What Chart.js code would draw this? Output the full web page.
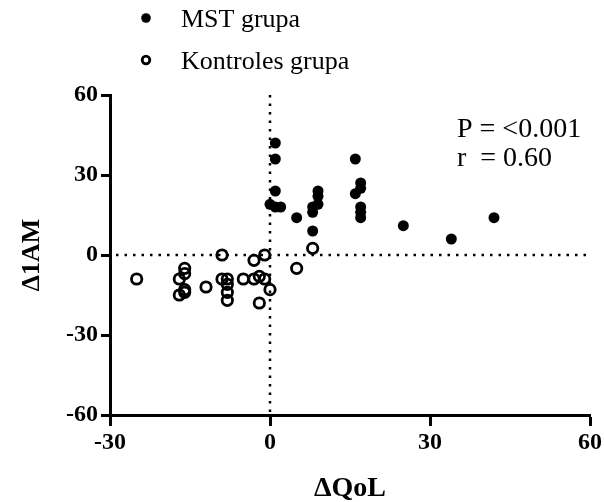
<!DOCTYPE html>
<html>
<head>
<meta charset="utf-8">
<script src="https://cdn.jsdelivr.net/npm/chart.js@4/dist/chart.umd.min.js"></script>
<style>
  html, body { margin: 0; padding: 0; background: #fff; }
  #wrap { width: 604px; height: 502px; position: relative; }
</style>
</head>
<body>
<div id="wrap"><canvas id="scatter"></canvas></div>
<script>
  // --- Data: change in QoL (x) vs change in 1AM (y) ---
  const mstX  = [1, 1, 1, 0, 1, 2, 5, 8, 8, 8, 9, 9, 9, 16, 16, 17, 17, 17, 17, 17, 25, 34, 42];
  const mstY  = [42, 36, 24, 19, 18, 18, 14, 9, 16, 18, 19, 22, 24, 36, 23, 25, 27, 18, 16, 14, 11, 6, 14];
  const ctrlX = [-25, -16, -16, -17, -16, -17, -16, -12, -9, -9, -8, -8, -8, -8, -5, -3, -3, -2, -1, -1, 0, -2, 5, 8];
  const ctrlY = [-9, -5, -7, -9, -13, -15, -14, -12, 0, -9, -9, -11, -14, -17, -9, -2, -9, -8, 0, -9, -13, -18, -5, 2.5];

  const xTicks = [-30, 0, 30, 60];
  const yTicks = [-60, -30, 0, 30, 60];

  const seriesNames = ['MST grupa', 'Kontroles grupa'];
  const statLines = ['P = <0.001', 'r  = 0.60'];
  const xTitle = '\u0394QoL';
  const yTitle = '\u03941AM';

  const SERIF = "'Liberation Serif', 'Times New Roman', serif";

  function toPoints(xs, ys) {
    return xs.map(function (x, i) { return { x: x, y: ys[i] }; });
  }

  // dotted reference lines through zero on both axes
  const zeroLines = {
    id: 'zeroLines',
    beforeDatasetsDraw: function (chart) {
      const ctx = chart.ctx;
      const a = chart.chartArea;
      const x0 = chart.scales.x.getPixelForValue(0);
      const y0 = chart.scales.y.getPixelForValue(0);
      ctx.save();
      ctx.strokeStyle = '#000';
      ctx.lineWidth = 2.5;
      ctx.setLineDash([2.5, 6]);
      ctx.beginPath();
      ctx.moveTo(a.left + 6, y0);
      ctx.lineTo(a.right, y0);
      ctx.moveTo(x0, a.top);
      ctx.lineTo(x0, a.bottom);
      ctx.stroke();
      ctx.restore();
    }
  };

  // legend, stats note and axis titles
  const labels = {
    id: 'labels',
    afterDraw: function (chart) {
      const ctx = chart.ctx;
      const a = chart.chartArea;
      ctx.save();
      ctx.fillStyle = '#000';
      ctx.strokeStyle = '#000';

      // legend
      ctx.beginPath();
      ctx.arc(146, 18, 4.8, 0, Math.PI * 2);
      ctx.fill();
      ctx.beginPath();
      ctx.lineWidth = 2.8;
      ctx.arc(146, 60, 3.8, 0, Math.PI * 2);
      ctx.stroke();
      ctx.font = '26px ' + SERIF;
      ctx.textAlign = 'left';
      ctx.textBaseline = 'alphabetic';
      ctx.fillText(seriesNames[0], 181, 27);
      ctx.fillText(seriesNames[1], 181, 69);

      // stats
      ctx.font = '28px ' + SERIF;
      ctx.fillText(statLines[0], 457, 137);
      ctx.fillText(statLines[1], 457, 166);

      // axis titles
      ctx.font = 'bold 28px ' + SERIF;
      ctx.textAlign = 'center';
      ctx.fillText(xTitle, (a.left + a.right) / 2, 496);
      ctx.translate(39, (a.top + a.bottom) / 2);
      ctx.rotate(-Math.PI / 2);
      ctx.font = 'bold 26px ' + SERIF;
      ctx.fillText(yTitle, 0, 0);
      ctx.restore();
    }
  };

  const tickFont = { family: SERIF, size: 24, weight: 'bold' };

  new Chart(document.getElementById('scatter'), {
    type: 'scatter',
    data: {
      datasets: [{
        label: seriesNames[0],
        data: toPoints(mstX, mstY),
        pointStyle: 'circle',
        pointRadius: 5.5,
        pointBackgroundColor: '#000',
        pointBorderWidth: 0
      }, {
        label: seriesNames[1],
        data: toPoints(ctrlX, ctrlY),
        pointStyle: 'circle',
        pointRadius: 5.2,
        pointBackgroundColor: 'rgba(0,0,0,0)',
        pointBorderColor: '#000',
        pointBorderWidth: 2.8
      }]
    },
    options: {
      responsive: true,
      maintainAspectRatio: false,
      animation: false,
      layout: { padding: { top: 95, right: 14, left: 0, bottom: 0 } },
      plugins: {
        legend: { display: false },
        tooltip: { enabled: false }
      },
      scales: {
        x: {
          type: 'linear',
          min: -30,
          max: 60,
          afterBuildTicks: function (scale) {
            scale.ticks = xTicks.map(function (v) { return { value: v }; });
          },
          afterFit: function (scale) { scale.height = 87; },
          border: { display: true, color: '#000', width: 3 },
          grid: {
            drawOnChartArea: false,
            drawTicks: true,
            tickLength: 11,
            tickWidth: 3,
            tickColor: '#000'
          },
          ticks: { color: '#000', font: tickFont, padding: 2, maxRotation: 0 }
        },
        y: {
          type: 'linear',
          min: -60,
          max: 60,
          afterBuildTicks: function (scale) {
            scale.ticks = yTicks.map(function (v) { return { value: v }; });
          },
          afterFit: function (scale) { scale.width = 110; },
          border: { display: true, color: '#000', width: 3 },
          grid: {
            drawOnChartArea: false,
            drawTicks: true,
            tickLength: 9,
            tickWidth: 3,
            tickColor: '#000'
          },
          ticks: { color: '#000', font: tickFont, padding: 3 }
        }
      }
    },
    plugins: [zeroLines, labels]
  });
</script>
</body>
</html>
